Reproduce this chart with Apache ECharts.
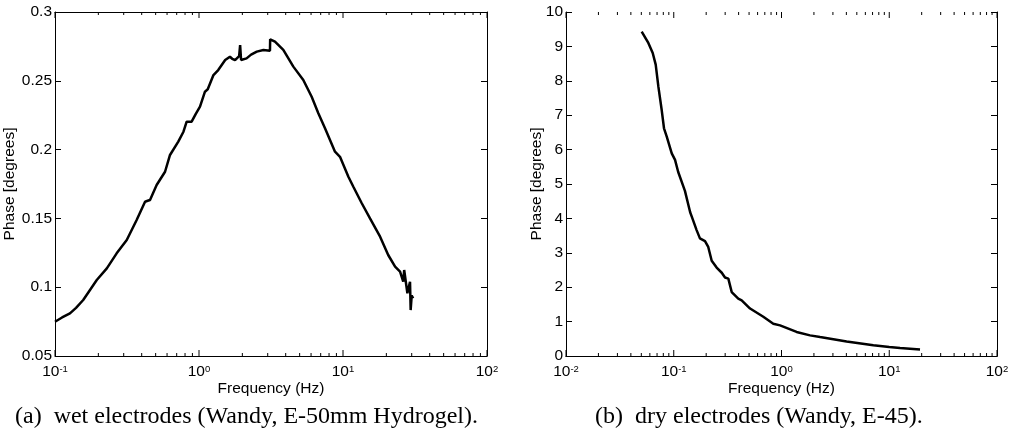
<!DOCTYPE html>
<html>
<head>
<meta charset="utf-8">
<script src="https://cdn.jsdelivr.net/npm/echarts@6/dist/echarts.min.js"></script>
<style>
  html, body { margin: 0; padding: 0; background: #fff; }
  #chart { width: 1013px; height: 437px; }
</style>
</head>
<body>
<div id="chart"></div>
<script>
// (a) wet electrodes
const freqWet = [0.100, 0.112, 0.127, 0.140, 0.157, 0.175, 0.195, 0.229, 0.268, 0.315,
  0.369, 0.422, 0.440, 0.457, 0.508, 0.581, 0.629, 0.718, 0.780, 0.821,
  0.889, 0.950, 1.016, 1.10, 1.15, 1.26, 1.36, 1.52, 1.64, 1.70,
  1.78, 1.90, 1.93, 1.96, 2.14, 2.30, 2.52, 2.80, 3.11, 3.12,
  3.37, 3.85, 4.52, 5.30, 6.06, 6.74, 7.50, 8.80, 9.53, 10.9,
  11.8, 13.5, 15.4, 18.1, 20.6, 23.0, 24.9, 26.2, 26.6, 28.0,
  29.2, 29.5, 30.0, 30.7];
const phaseWet = [0.0749, 0.078, 0.081, 0.085, 0.0907, 0.098, 0.1052, 0.1137, 0.1246, 0.1343,
  0.1488, 0.1621, 0.1628, 0.1634, 0.1743, 0.1839, 0.1961, 0.2058, 0.213, 0.2203,
  0.2203, 0.226, 0.2312, 0.2421, 0.2438, 0.2542, 0.2578, 0.2651, 0.2675, 0.2660,
  0.2651, 0.2680, 0.2760, 0.2651, 0.2663, 0.2690, 0.2712, 0.2724, 0.2719, 0.2801,
  0.2784, 0.2724, 0.2603, 0.2506, 0.2384, 0.2264, 0.2155, 0.1985, 0.1948, 0.1803,
  0.1730, 0.1610, 0.1500, 0.1367, 0.1234, 0.1149, 0.1113, 0.1040, 0.1125, 0.0956,
  0.1040, 0.0834, 0.0940, 0.0920];

// (b) dry electrodes
const freqDry = [0.0504, 0.0581, 0.0638, 0.068, 0.072, 0.0773, 0.0812, 0.0861, 0.0958, 0.1028,
  0.110, 0.127, 0.142, 0.147, 0.163, 0.175, 0.195, 0.209, 0.225, 0.250,
  0.279, 0.299, 0.321, 0.345, 0.397, 0.427, 0.511, 0.678, 0.839, 0.97,
  1.38, 1.84, 2.28, 4.02, 7.12, 10.0, 12.6, 19.3];
const phaseDry = [9.43, 9.10, 8.81, 8.47, 7.83, 7.15, 6.62, 6.38, 5.89, 5.70,
  5.35, 4.80, 4.18, 4.05, 3.66, 3.42, 3.34, 3.17, 2.77, 2.57,
  2.42, 2.28, 2.25, 1.86, 1.67, 1.62, 1.38, 1.14, 0.94, 0.89,
  0.70, 0.60, 0.55, 0.42, 0.31, 0.26, 0.23, 0.19];

const yTicksWet = [0.05, 0.3, 0.05];   // min, max, step
const yTicksDry = [0, 10, 1];
const xRangeWet = [0.1, 100];
const xRangeDry = [0.01, 100];
const captions = ["(a)\u2002wet electrodes (Wandy, E-50mm Hydrogel).", "(b)\u2002dry electrodes (Wandy, E-45)."];

// log ticks: [value, isDecade]
function logTicks(range) {
  const out = [];
  const d0 = Math.round(Math.log10(range[0]));
  const d1 = Math.round(Math.log10(range[1]));
  for (let d = d0; d <= d1; d++) {
    out.push([Math.pow(10, d), 1]);
    if (d === d1) break;
    for (let k = 2; k <= 9; k++) out.push([+(k * Math.pow(10, d)).toPrecision(3), 0]);
  }
  return out;
}

const font = "'Liberation Sans', Arial, sans-serif";
const txt = { color: "#000", fontFamily: font, fontSize: 15.5 };

function xAxes(range, grid) {
  const base = {
    type: "log", logBase: 10, gridIndex: grid, min: range[0], max: range[1],
    splitLine: { show: false },
    axisLine: { lineStyle: { color: "#000", width: 1 } },
    axisTick: { show: false },
  };
  return [
    Object.assign({}, base, {
      position: "bottom",
      name: "Frequency (Hz)", nameLocation: "middle", nameGap: 25, nameMoveOverlap: false,
      nameTextStyle: txt,
      axisLabel: {
        margin: 8,
        formatter: (v) => "{b|10}{s|" + Math.round(Math.log10(v)) + "}",
        rich: {
          b: { fontSize: 15.5, lineHeight: 15.5, fontFamily: font, color: "#000", verticalAlign: "bottom" },
          s: { fontSize: 9.5, lineHeight: 9.5, fontFamily: font, color: "#000", verticalAlign: "top", padding: [0, 0, 14, 0] },
        },
      },
    }),
    Object.assign({}, base, { position: "top", axisLabel: { show: false } }),
  ];
}

function yAxes(t, grid, gap) {
  const base = {
    type: "value", gridIndex: grid, min: t[0], max: t[1], interval: t[2],
    splitLine: { show: false },
    axisLine: { show: true, lineStyle: { color: "#000", width: 1 } },
    axisTick: { inside: true, length: 6, lineStyle: { color: "#000" } },
  };
  return [
    Object.assign({}, base, {
      position: "left",
      name: "Phase [degrees]", nameLocation: "middle", nameGap: gap, nameMoveOverlap: false,
      nameTextStyle: txt,
      axisLabel: Object.assign({ margin: 3 }, txt),
    }),
    Object.assign({}, base, { position: "right", axisLabel: { show: false } }),
  ];
}

// inside log ticks on bottom and top edges, placed through the axis scale
function tickSeries(range, t, xi, yi) {
  return {
    type: "custom", xAxisIndex: xi, yAxisIndex: yi, silent: true, clip: false,
    data: logTicks(range).map((d) => [d[0], t[0], d[1]]),
    renderItem: (params, api) => {
      const v = api.value(0);
      const len = api.value(2) ? 6 : 3;
      const b = api.coord([v, t[0]]);
      const top = api.coord([v, t[1]]);
      const st = { stroke: "#000", lineWidth: 1 };
      return {
        type: "group",
        children: [
          { type: "line", shape: { x1: b[0], y1: b[1], x2: b[0], y2: b[1] - len }, style: st },
          { type: "line", shape: { x1: top[0], y1: top[1], x2: top[0], y2: top[1] + len }, style: st },
        ],
      };
    },
  };
}

const chart = echarts.init(document.getElementById("chart"), null, { renderer: "canvas" });

const option = {
  animation: false,
  backgroundColor: "#fff",
  grid: [
    { left: 55, right: 526, top: 12, bottom: 81 },
    { left: 566, right: 16, top: 12, bottom: 81 },
  ],
  xAxis: xAxes(xRangeWet, 0).concat(xAxes(xRangeDry, 1)),
  yAxis: yAxes(yTicksWet, 0, 37).concat(yAxes(yTicksDry, 1, 21)),
  series: [
    {
      type: "line", xAxisIndex: 0, yAxisIndex: 0, showSymbol: false, silent: true,
      data: freqWet.map((f, i) => [f, phaseWet[i]]),
      lineStyle: { color: "#000", width: 2.5 },
    },
    {
      type: "line", xAxisIndex: 2, yAxisIndex: 2, showSymbol: false, silent: true,
      data: freqDry.map((f, i) => [f, phaseDry[i]]),
      lineStyle: { color: "#000", width: 2.5 },
    },
    tickSeries(xRangeWet, yTicksWet, 0, 0),
    tickSeries(xRangeDry, yTicksDry, 2, 2),
  ],
  graphic: [
    {
      type: "text", left: 15, top: 405,
      style: { text: captions[0], fill: "#000", font: "24px 'Liberation Serif', serif" },
    },
    {
      type: "text", left: 595, top: 405,
      style: { text: captions[1], fill: "#000", font: "24px 'Liberation Serif', serif" },
    },
  ],
};

chart.setOption(option);
</script>
</body>
</html>
